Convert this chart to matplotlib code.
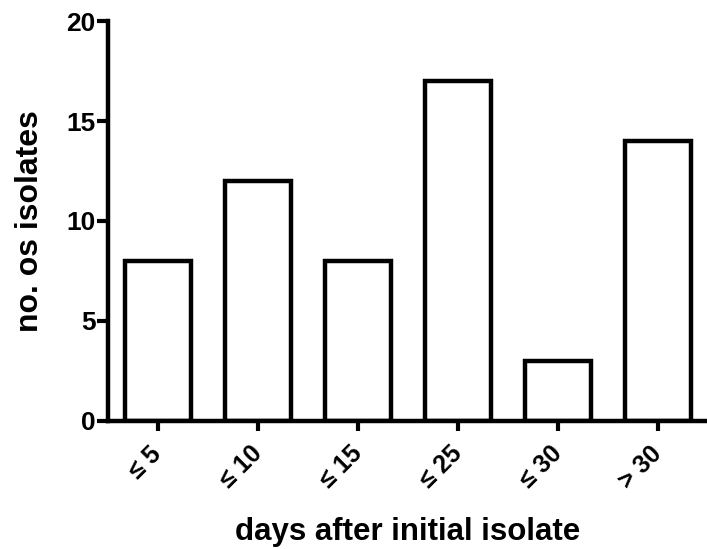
import matplotlib
matplotlib.use("Agg")
import matplotlib.pyplot as plt
import numpy as np

plt.rcParams['font.family'] = ['Liberation Sans', 'DejaVu Sans']
plt.rcParams['font.weight'] = 'bold'

categories = ['\u2264 5', '\u2264 10', '\u2264 15', '\u2264 25', '\u2264 30', '> 30']
counts = [8, 12, 8, 17, 3, 14]

fig = plt.figure(figsize=(7.07, 5.49), dpi=100)
ax = fig.add_axes([0.1528, 0.2332, 0.8472, 0.7285])

x = np.arange(len(categories))
ax.bar(x, counts, width=0.66, color='white', edgecolor='black', linewidth=3.2)

ax.set_xlim(-0.5, 5.49)
ax.set_ylim(0, 20)
ax.set_yticks([0, 5, 10, 15, 20])
ax.set_xticks(x)
ax.set_xticklabels(categories, rotation=45, ha='right', va='center',
                   rotation_mode='anchor', fontsize=18)
ax.tick_params(axis='y', labelsize=19, width=3, length=8, pad=1)
ax.tick_params(axis='x', width=3, length=7, pad=14)

for s in ['top', 'right']:
    ax.spines[s].set_visible(False)
for s in ['left', 'bottom']:
    ax.spines[s].set_linewidth(3.2)

ax.set_ylabel('no. os isolates', fontsize=23, fontweight='bold')
ax.yaxis.set_label_coords(-0.105, 0.5)
ax.set_xlabel('days after initial isolate', fontsize=22.5, fontweight='bold')
ax.xaxis.set_label_coords(0.5, -0.24)

fig.savefig('out.png', dpi=100)
